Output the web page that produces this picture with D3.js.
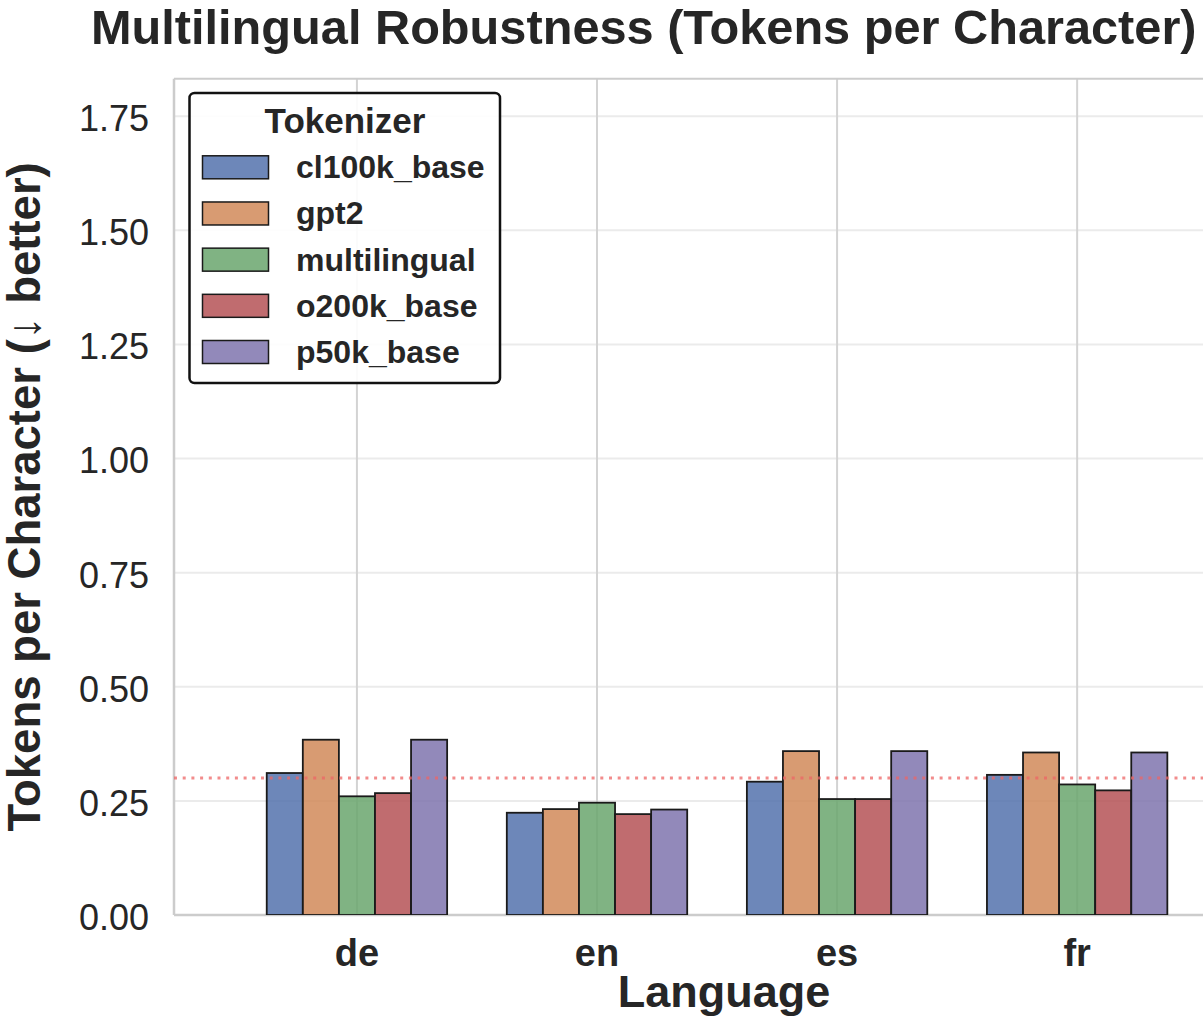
<!DOCTYPE html>
<html>
<head>
<meta charset="utf-8">
<script src="https://cdn.jsdelivr.net/npm/d3@7"></script>
<style>
  body { margin: 0; background: #fff; }
  text { font-family: "Liberation Sans", Arial, sans-serif; fill: #262626; }
</style>
</head>
<body>
<div id="chart"></div>
<script>
// data
const languages = ["de", "en", "es", "fr"]
const tokenizers = ["cl100k_base", "gpt2", "multilingual", "o200k_base", "p50k_base"]
const cl100k = [0.311, 0.224, 0.292, 0.307]
const gpt2 = [0.384, 0.232, 0.359, 0.356]
const multilingual = [0.260, 0.246, 0.254, 0.286]
const o200k = [0.267, 0.221, 0.254, 0.273]
const p50k = [0.384, 0.231, 0.359, 0.356]
const referenceLine = 0.30
const yTicks = [0, 0.25, 0.5, 0.75, 1.0, 1.25, 1.5, 1.75]

const seriesValues = [cl100k, gpt2, multilingual, o200k, p50k]
const colors = ["#5472ad", "#d18959", "#6aa66d", "#b55256", "#7f74ae"]

const width = 1203
const height = 1020
const plotLeft = 174, plotRight = 1274, plotTop = 78.7, plotBottom = 915

const xScale = d3.scaleLinear().domain([-0.762, 3.82]).range([plotLeft, plotRight])
const inner = d3.scaleBand().domain(tokenizers).range([-90.2, 90.2])
const yScale = d3.scaleLinear().domain([0, 1.832]).range([plotBottom, plotTop])

const svg = d3.select("#chart").append("svg")
  .attr("width", width).attr("height", height)

svg.append("defs").append("clipPath").attr("id", "plot")
  .append("rect").attr("x", plotLeft).attr("y", plotTop)
  .attr("width", plotRight - plotLeft).attr("height", plotBottom - plotTop)

// horizontal grid
svg.append("g").selectAll("line").data(yTicks).join("line")
  .attr("x1", plotLeft).attr("x2", plotRight)
  .attr("y1", d => yScale(d)).attr("y2", d => yScale(d))
  .attr("stroke", "#ebebeb").attr("stroke-width", 2)

// vertical grid at categories
svg.append("g").selectAll("line").data(languages).join("line")
  .attr("x1", (d, i) => xScale(i)).attr("x2", (d, i) => xScale(i))
  .attr("y1", plotTop).attr("y2", plotBottom)
  .attr("stroke", "#d3d3d3").attr("stroke-width", 2)

// spines
svg.append("line").attr("x1", plotLeft).attr("x2", plotLeft).attr("y1", plotTop).attr("y2", plotBottom)
  .attr("stroke", "#cccccc").attr("stroke-width", 2.5)
svg.append("line").attr("x1", plotLeft).attr("x2", plotRight).attr("y1", plotBottom).attr("y2", plotBottom)
  .attr("stroke", "#cccccc").attr("stroke-width", 2.5)
svg.append("line").attr("x1", plotLeft).attr("x2", plotRight).attr("y1", plotTop).attr("y2", plotTop)
  .attr("stroke", "#cccccc").attr("stroke-width", 2)

// bars
const barData = []
tokenizers.forEach((t, k) => {
  languages.forEach((lang, i) => {
    barData.push({ lang: i, tok: t, value: seriesValues[k][i], color: colors[k] })
  })
})

svg.append("g").attr("clip-path", "url(#plot)")
  .selectAll("rect").data(barData).join("rect")
  .attr("x", d => xScale(d.lang) + inner(d.tok))
  .attr("width", inner.bandwidth())
  .attr("y", d => yScale(d.value))
  .attr("height", d => yScale(0) - yScale(d.value))
  .attr("fill", d => d.color)
  .attr("fill-opacity", 0.85)
  .attr("stroke", "#1a1a1a")
  .attr("stroke-width", 1.8)

// reference line
svg.append("line")
  .attr("x1", plotLeft).attr("x2", plotRight)
  .attr("y1", yScale(referenceLine)).attr("y2", yScale(referenceLine))
  .attr("stroke", "#ee6666").attr("stroke-opacity", 0.75)
  .attr("stroke-width", 3).attr("stroke-dasharray", "3,5.7")

// y ticks
svg.append("g").selectAll("text").data(yTicks).join("text")
  .attr("x", 149).attr("y", d => yScale(d) + 2)
  .attr("dy", "0.36em")
  .attr("text-anchor", "end")
  .attr("font-size", 36)
  .text(d3.format(".2f"))

// x ticks
svg.append("g").selectAll("text").data(languages).join("text")
  .attr("x", (d, i) => xScale(i)).attr("y", 966)
  .attr("text-anchor", "middle")
  .attr("font-size", 38).attr("font-weight", "bold")
  .text(d => d)

// axis titles
svg.append("text").attr("x", 724).attr("y", 1007)
  .attr("text-anchor", "middle").attr("font-size", 45).attr("font-weight", "bold")
  .text("Language")

svg.append("text")
  .attr("transform", "translate(40," + ((plotTop + plotBottom) / 2) + ") rotate(-90)")
  .attr("text-anchor", "middle").attr("font-size", 45.5).attr("font-weight", "bold")
  .text("Tokens per Character (↓ better)")

// title
svg.append("text").attr("x", 91).attr("y", 44)
  .attr("font-size", 48.7).attr("font-weight", "bold")
  .text("Multilingual Robustness (Tokens per Character)")

// legend
const legend = svg.append("g")
legend.append("rect")
  .attr("x", 189.5).attr("y", 93).attr("width", 310.5).attr("height", 290)
  .attr("rx", 5).attr("fill", "white").attr("fill-opacity", 0.9)
  .attr("stroke", "#111").attr("stroke-width", 2.5)
legend.append("text").attr("x", 345).attr("y", 133)
  .attr("text-anchor", "middle").attr("font-size", 35).attr("font-weight", "bold")
  .text("Tokenizer")

const legendY = d3.scalePoint().domain(tokenizers).range([167.3, 352])
const items = legend.selectAll("g.item").data(tokenizers).join("g").attr("class", "item")
items.append("rect")
  .attr("x", 202.5).attr("y", d => legendY(d) - 11.5)
  .attr("width", 66).attr("height", 23)
  .attr("fill", (d, i) => colors[i]).attr("fill-opacity", 0.85)
  .attr("stroke", "#1a1a1a").attr("stroke-width", 1.5)
items.append("text")
  .attr("x", 296).attr("y", d => legendY(d) + 11)
  .attr("font-size", 32).attr("font-weight", "bold")
  .text(d => d)
</script>
</body>
</html>
